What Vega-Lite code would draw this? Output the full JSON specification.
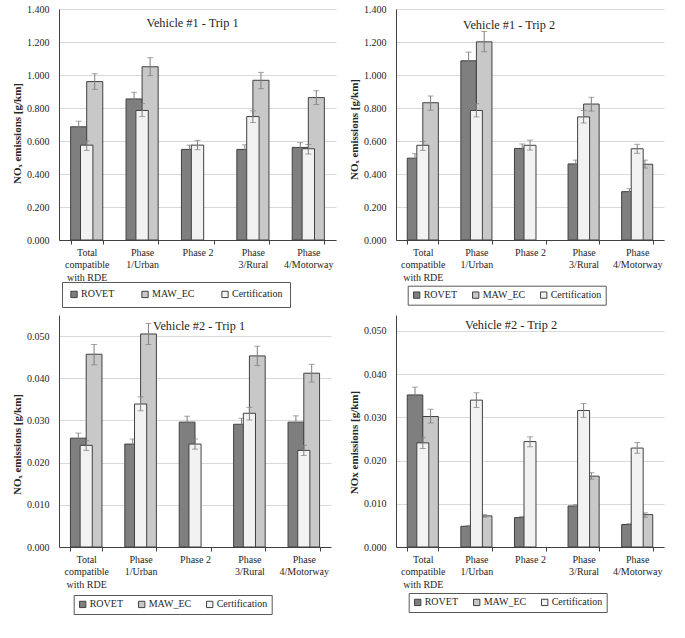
{
"$schema": "https://vega.github.io/schema/vega-lite/v6.json",
"padding": {"left": 11, "top": 4, "right": 5, "bottom": 5},
"data": {"values": [
{"p":1,"ph":"Total compatible with RDE","s":"ROVET","v":0.686,"lo":0.652,"hi":0.720},
{"p":1,"ph":"Total compatible with RDE","s":"MAW_EC","v":0.960,"lo":0.913,"hi":1.008},
{"p":1,"ph":"Total compatible with RDE","s":"Certification","v":0.575,"lo":0.543,"hi":0.600},
{"p":1,"ph":"Phase 1/Urban","s":"ROVET","v":0.855,"lo":0.811,"hi":0.895},
{"p":1,"ph":"Phase 1/Urban","s":"MAW_EC","v":1.050,"lo":0.996,"hi":1.105},
{"p":1,"ph":"Phase 1/Urban","s":"Certification","v":0.785,"lo":0.748,"hi":0.827},
{"p":1,"ph":"Phase 2","s":"ROVET","v":0.549,"lo":0.519,"hi":0.575},
{"p":1,"ph":"Phase 2","s":"Certification","v":0.575,"lo":0.547,"hi":0.604},
{"p":1,"ph":"Phase 3/Rural","s":"ROVET","v":0.549,"lo":0.519,"hi":0.577},
{"p":1,"ph":"Phase 3/Rural","s":"MAW_EC","v":0.968,"lo":0.917,"hi":1.016},
{"p":1,"ph":"Phase 3/Rural","s":"Certification","v":0.748,"lo":0.712,"hi":0.783},
{"p":1,"ph":"Phase 4/Motorway","s":"ROVET","v":0.561,"lo":0.531,"hi":0.590},
{"p":1,"ph":"Phase 4/Motorway","s":"MAW_EC","v":0.863,"lo":0.821,"hi":0.905},
{"p":1,"ph":"Phase 4/Motorway","s":"Certification","v":0.553,"lo":0.521,"hi":0.579},
{"p":2,"ph":"Total compatible with RDE","s":"ROVET","v":0.496,"lo":0.473,"hi":0.523},
{"p":2,"ph":"Total compatible with RDE","s":"MAW_EC","v":0.832,"lo":0.787,"hi":0.873},
{"p":2,"ph":"Total compatible with RDE","s":"Certification","v":0.574,"lo":0.543,"hi":0.598},
{"p":2,"ph":"Phase 1/Urban","s":"ROVET","v":1.086,"lo":1.031,"hi":1.139},
{"p":2,"ph":"Phase 1/Urban","s":"MAW_EC","v":1.201,"lo":1.141,"hi":1.264},
{"p":2,"ph":"Phase 1/Urban","s":"Certification","v":0.785,"lo":0.746,"hi":0.826},
{"p":2,"ph":"Phase 2","s":"ROVET","v":0.555,"lo":0.529,"hi":0.582},
{"p":2,"ph":"Phase 2","s":"Certification","v":0.574,"lo":0.545,"hi":0.605},
{"p":2,"ph":"Phase 3/Rural","s":"ROVET","v":0.461,"lo":0.436,"hi":0.484},
{"p":2,"ph":"Phase 3/Rural","s":"MAW_EC","v":0.824,"lo":0.781,"hi":0.865},
{"p":2,"ph":"Phase 3/Rural","s":"Certification","v":0.746,"lo":0.709,"hi":0.785},
{"p":2,"ph":"Phase 4/Motorway","s":"ROVET","v":0.293,"lo":0.277,"hi":0.311},
{"p":2,"ph":"Phase 4/Motorway","s":"MAW_EC","v":0.459,"lo":0.436,"hi":0.484},
{"p":2,"ph":"Phase 4/Motorway","s":"Certification","v":0.553,"lo":0.525,"hi":0.580},
{"p":3,"ph":"Total compatible with RDE","s":"ROVET","v":0.0258,"lo":0.0243,"hi":0.0270},
{"p":3,"ph":"Total compatible with RDE","s":"MAW_EC","v":0.0457,"lo":0.0432,"hi":0.0480},
{"p":3,"ph":"Total compatible with RDE","s":"Certification","v":0.0241,"lo":0.0229,"hi":0.0252},
{"p":3,"ph":"Phase 1/Urban","s":"ROVET","v":0.0244,"lo":0.0233,"hi":0.0256},
{"p":3,"ph":"Phase 1/Urban","s":"MAW_EC","v":0.0505,"lo":0.0480,"hi":0.0530},
{"p":3,"ph":"Phase 1/Urban","s":"Certification","v":0.0339,"lo":0.0323,"hi":0.0356},
{"p":3,"ph":"Phase 2","s":"ROVET","v":0.0296,"lo":0.0282,"hi":0.0310},
{"p":3,"ph":"Phase 2","s":"Certification","v":0.0244,"lo":0.0232,"hi":0.0256},
{"p":3,"ph":"Phase 3/Rural","s":"ROVET","v":0.0291,"lo":0.0276,"hi":0.0305},
{"p":3,"ph":"Phase 3/Rural","s":"MAW_EC","v":0.0453,"lo":0.0430,"hi":0.0476},
{"p":3,"ph":"Phase 3/Rural","s":"Certification","v":0.0317,"lo":0.0301,"hi":0.0331},
{"p":3,"ph":"Phase 4/Motorway","s":"ROVET","v":0.0296,"lo":0.0281,"hi":0.0311},
{"p":3,"ph":"Phase 4/Motorway","s":"MAW_EC","v":0.0412,"lo":0.0391,"hi":0.0433},
{"p":3,"ph":"Phase 4/Motorway","s":"Certification","v":0.0229,"lo":0.0217,"hi":0.0241},
{"p":4,"ph":"Total compatible with RDE","s":"ROVET","v":0.0352,"lo":0.0335,"hi":0.0370},
{"p":4,"ph":"Total compatible with RDE","s":"MAW_EC","v":0.0302,"lo":0.0287,"hi":0.0319},
{"p":4,"ph":"Total compatible with RDE","s":"Certification","v":0.0241,"lo":0.0228,"hi":0.0253},
{"p":4,"ph":"Phase 1/Urban","s":"ROVET","v":0.0048,"lo":0.0046,"hi":0.0050},
{"p":4,"ph":"Phase 1/Urban","s":"MAW_EC","v":0.0072,"lo":0.0069,"hi":0.0075},
{"p":4,"ph":"Phase 1/Urban","s":"Certification","v":0.0340,"lo":0.0323,"hi":0.0357},
{"p":4,"ph":"Phase 2","s":"ROVET","v":0.0068,"lo":0.0065,"hi":0.0071},
{"p":4,"ph":"Phase 2","s":"Certification","v":0.0244,"lo":0.0232,"hi":0.0255},
{"p":4,"ph":"Phase 3/Rural","s":"ROVET","v":0.0095,"lo":0.0090,"hi":0.0098},
{"p":4,"ph":"Phase 3/Rural","s":"MAW_EC","v":0.0164,"lo":0.0157,"hi":0.0172},
{"p":4,"ph":"Phase 3/Rural","s":"Certification","v":0.0316,"lo":0.0300,"hi":0.0332},
{"p":4,"ph":"Phase 4/Motorway","s":"ROVET","v":0.0052,"lo":0.0049,"hi":0.0054},
{"p":4,"ph":"Phase 4/Motorway","s":"MAW_EC","v":0.0075,"lo":0.0069,"hi":0.0079},
{"p":4,"ph":"Phase 4/Motorway","s":"Certification","v":0.0229,"lo":0.0217,"hi":0.0242}
]},
"columns": 2,
"spacing": {"row": 75, "column": 60},
"bounds": "flush",
"align": "each",
"resolve": {"scale": {"x": "independent", "y": "independent", "color": "independent", "xOffset": "independent"}, "legend": {"color": "independent"}, "axis": {"x": "independent", "y": "independent"}},
"concat": [
{
"width": 277, "height": 231,
"transform": [{"filter": "datum.p == 1"}],
"encoding": {"x": {"field": "ph", "type": "nominal", "title": null, "scale": {"domain": ["Total compatible with RDE","Phase 1/Urban","Phase 2","Phase 3/Rural","Phase 4/Motorway"], "paddingInner": 0.42, "paddingOuter": 0.21}, "axis": {"labelExpr": "!datum.value ? '' : datum.value == 'Total compatible with RDE' ? ['Total', 'compatible', 'with RDE'] : datum.value == 'Phase 2' ? 'Phase 2' : split(datum.value, ' ')"}}},
"layer": [
{"mark": {"type": "bar", "stroke": "#404040", "strokeWidth": 1}, "transform": [{"filter": "datum.s != 'Certification'"}],
 "encoding": {"xOffset": {"field": "s", "type": "nominal", "scale": {"domain": ["ROVET","MAW_EC"], "paddingInner": 0, "paddingOuter": 0}},
  "y": {"field": "v", "type": "quantitative", "title": "NOₓ emissions [g/km]", "scale": {"domain": [0, 1.4], "nice": false}, "axis": {"values": [0,0.2,0.4,0.6,0.8,1.0,1.2,1.4], "tickCount": 8, "format": ".3f", "titleY": 124}},
  "color": {"field": "s", "type": "nominal", "scale": {"domain": ["ROVET","MAW_EC","Certification"], "range": ["#7f7f7f","#c8c8c8","#f2f2f2"]}, "legend": {"orient": "none", "legendX": 3, "legendY": 273, "direction": "horizontal", "columns": 3, "title": null, "padding": 7, "columnPadding": 24}}}},
{"mark": {"type": "rule", "color": "#7f7f7f", "strokeWidth": 1}, "transform": [{"filter": "datum.s != 'Certification'"}],
 "encoding": {"xOffset": {"field": "s", "type": "nominal", "scale": {"domain": ["ROVET","MAW_EC"], "paddingInner": 0, "paddingOuter": 0}},
  "y": {"field": "lo", "type": "quantitative", "title": "NOₓ emissions [g/km]", "scale": {"domain": [0, 1.4], "nice": false}}, "y2": {"field": "hi"}}},
{"mark": {"type": "tick", "color": "#7f7f7f", "size": 6, "thickness": 1}, "transform": [{"filter": "datum.s != 'Certification'"}, {"fold": ["lo", "hi"], "as": ["k", "e"]}],
 "encoding": {"xOffset": {"field": "s", "type": "nominal", "scale": {"domain": ["ROVET","MAW_EC"], "paddingInner": 0, "paddingOuter": 0}},
  "y": {"field": "e", "type": "quantitative", "title": "NOₓ emissions [g/km]", "scale": {"domain": [0, 1.4], "nice": false}}}},
{"mark": {"type": "bar", "stroke": "#404040", "strokeWidth": 1, "width": {"band": 0.385}}, "transform": [{"filter": "datum.s == 'Certification'"}],
 "encoding": {"y": {"field": "v", "type": "quantitative", "title": "NOₓ emissions [g/km]", "scale": {"domain": [0, 1.4], "nice": false}},
  "color": {"field": "s", "type": "nominal", "scale": {"domain": ["ROVET","MAW_EC","Certification"], "range": ["#7f7f7f","#c8c8c8","#f2f2f2"]}, "legend": {"orient": "none", "legendX": 3, "legendY": 273, "direction": "horizontal", "columns": 3, "title": null, "padding": 7, "columnPadding": 24}}}},
{"mark": {"type": "rule", "color": "#7f7f7f", "strokeWidth": 1}, "transform": [{"filter": "datum.s == 'Certification'"}],
 "encoding": {"y": {"field": "lo", "type": "quantitative", "title": "NOₓ emissions [g/km]", "scale": {"domain": [0, 1.4], "nice": false}}, "y2": {"field": "hi"}}},
{"mark": {"type": "tick", "color": "#7f7f7f", "size": 6, "thickness": 1}, "transform": [{"filter": "datum.s == 'Certification'"}, {"fold": ["lo", "hi"], "as": ["k", "e"]}],
 "encoding": {"y": {"field": "e", "type": "quantitative", "title": "NOₓ emissions [g/km]", "scale": {"domain": [0, 1.4], "nice": false}}}},
{"data": {"values": [{"p": 1, "t": "Vehicle #1 - Trip 1"}]},
 "mark": {"type": "text", "font": "Liberation Serif", "fontSize": 12.3, "color": "#262626", "align": "center", "baseline": "middle", "dx": -5},
 "encoding": {"x": {"datum": "Phase 2", "type": "nominal"}, "y": {"datum": 1.317, "type": "quantitative", "title": "NOₓ emissions [g/km]", "scale": {"domain": [0, 1.4], "nice": false}}, "text": {"field": "t"}}}
]
},
{
"width": 268, "height": 231,
"transform": [{"filter": "datum.p == 2"}],
"encoding": {"x": {"field": "ph", "type": "nominal", "title": null, "scale": {"domain": ["Total compatible with RDE","Phase 1/Urban","Phase 2","Phase 3/Rural","Phase 4/Motorway"], "paddingInner": 0.42, "paddingOuter": 0.21}, "axis": {"labelExpr": "!datum.value ? '' : datum.value == 'Total compatible with RDE' ? ['Total', 'compatible', 'with RDE'] : datum.value == 'Phase 2' ? 'Phase 2' : split(datum.value, ' ')"}}},
"layer": [
{"mark": {"type": "bar", "stroke": "#404040", "strokeWidth": 1}, "transform": [{"filter": "datum.s != 'Certification'"}],
 "encoding": {"xOffset": {"field": "s", "type": "nominal", "scale": {"domain": ["ROVET","MAW_EC"], "paddingInner": 0, "paddingOuter": 0}},
  "y": {"field": "v", "type": "quantitative", "title": "NOₓ emissions [g/km]", "scale": {"domain": [0, 1.4], "nice": false}, "axis": {"values": [0,0.2,0.4,0.6,0.8,1.0,1.2,1.4], "tickCount": 8, "format": ".3f", "titleY": 120}},
  "color": {"field": "s", "type": "nominal", "scale": {"domain": ["ROVET","MAW_EC","Certification"], "range": ["#7f7f7f","#c8c8c8","#f2f2f2"]}, "legend": {"orient": "none", "legendX": 11.7, "legendY": 276.7, "direction": "horizontal", "columns": 3, "title": null}}}},
{"mark": {"type": "rule", "color": "#7f7f7f", "strokeWidth": 1}, "transform": [{"filter": "datum.s != 'Certification'"}],
 "encoding": {"xOffset": {"field": "s", "type": "nominal", "scale": {"domain": ["ROVET","MAW_EC"], "paddingInner": 0, "paddingOuter": 0}},
  "y": {"field": "lo", "type": "quantitative", "title": "NOₓ emissions [g/km]", "scale": {"domain": [0, 1.4], "nice": false}}, "y2": {"field": "hi"}}},
{"mark": {"type": "tick", "color": "#7f7f7f", "size": 6, "thickness": 1}, "transform": [{"filter": "datum.s != 'Certification'"}, {"fold": ["lo", "hi"], "as": ["k", "e"]}],
 "encoding": {"xOffset": {"field": "s", "type": "nominal", "scale": {"domain": ["ROVET","MAW_EC"], "paddingInner": 0, "paddingOuter": 0}},
  "y": {"field": "e", "type": "quantitative", "title": "NOₓ emissions [g/km]", "scale": {"domain": [0, 1.4], "nice": false}}}},
{"mark": {"type": "bar", "stroke": "#404040", "strokeWidth": 1, "width": {"band": 0.385}}, "transform": [{"filter": "datum.s == 'Certification'"}],
 "encoding": {"y": {"field": "v", "type": "quantitative", "title": "NOₓ emissions [g/km]", "scale": {"domain": [0, 1.4], "nice": false}},
  "color": {"field": "s", "type": "nominal", "scale": {"domain": ["ROVET","MAW_EC","Certification"], "range": ["#7f7f7f","#c8c8c8","#f2f2f2"]}, "legend": {"orient": "none", "legendX": 11.7, "legendY": 276.7, "direction": "horizontal", "columns": 3, "title": null}}}},
{"mark": {"type": "rule", "color": "#7f7f7f", "strokeWidth": 1}, "transform": [{"filter": "datum.s == 'Certification'"}],
 "encoding": {"y": {"field": "lo", "type": "quantitative", "title": "NOₓ emissions [g/km]", "scale": {"domain": [0, 1.4], "nice": false}}, "y2": {"field": "hi"}}},
{"mark": {"type": "tick", "color": "#7f7f7f", "size": 6, "thickness": 1}, "transform": [{"filter": "datum.s == 'Certification'"}, {"fold": ["lo", "hi"], "as": ["k", "e"]}],
 "encoding": {"y": {"field": "e", "type": "quantitative", "title": "NOₓ emissions [g/km]", "scale": {"domain": [0, 1.4], "nice": false}}}},
{"data": {"values": [{"p": 2, "t": "Vehicle #1 - Trip 2"}]},
 "mark": {"type": "text", "font": "Liberation Serif", "fontSize": 12.3, "color": "#262626", "align": "center", "baseline": "middle", "dx": -21},
 "encoding": {"x": {"datum": "Phase 2", "type": "nominal"}, "y": {"datum": 1.305, "type": "quantitative", "title": "NOₓ emissions [g/km]", "scale": {"domain": [0, 1.4], "nice": false}}, "text": {"field": "t"}}}
]
},
{
"width": 272, "height": 232,
"transform": [{"filter": "datum.p == 3"}],
"encoding": {"x": {"field": "ph", "type": "nominal", "title": null, "scale": {"domain": ["Total compatible with RDE","Phase 1/Urban","Phase 2","Phase 3/Rural","Phase 4/Motorway"], "paddingInner": 0.42, "paddingOuter": 0.21}, "axis": {"labelExpr": "!datum.value ? '' : datum.value == 'Total compatible with RDE' ? ['Total', 'compatible', 'with RDE'] : datum.value == 'Phase 2' ? 'Phase 2' : split(datum.value, ' ')"}}},
"layer": [
{"mark": {"type": "bar", "stroke": "#404040", "strokeWidth": 1}, "transform": [{"filter": "datum.s != 'Certification'"}],
 "encoding": {"xOffset": {"field": "s", "type": "nominal", "scale": {"domain": ["ROVET","MAW_EC"], "paddingInner": 0, "paddingOuter": 0}},
  "y": {"field": "v", "type": "quantitative", "title": "NOₓ emissions [g/km]", "scale": {"domain": [0, 0.055], "nice": false}, "axis": {"values": [0,0.01,0.02,0.03,0.04,0.05], "tickCount": 6, "format": ".3f", "titleY": 129}},
  "color": {"field": "s", "type": "nominal", "scale": {"domain": ["ROVET","MAW_EC","Certification"], "range": ["#7f7f7f","#c8c8c8","#f2f2f2"]}, "legend": {"orient": "none", "legendX": 14.7, "legendY": 280, "direction": "horizontal", "columns": 3, "title": null}}}},
{"mark": {"type": "rule", "color": "#7f7f7f", "strokeWidth": 1}, "transform": [{"filter": "datum.s != 'Certification'"}],
 "encoding": {"xOffset": {"field": "s", "type": "nominal", "scale": {"domain": ["ROVET","MAW_EC"], "paddingInner": 0, "paddingOuter": 0}},
  "y": {"field": "lo", "type": "quantitative", "title": "NOₓ emissions [g/km]", "scale": {"domain": [0, 0.055], "nice": false}}, "y2": {"field": "hi"}}},
{"mark": {"type": "tick", "color": "#7f7f7f", "size": 6, "thickness": 1}, "transform": [{"filter": "datum.s != 'Certification'"}, {"fold": ["lo", "hi"], "as": ["k", "e"]}],
 "encoding": {"xOffset": {"field": "s", "type": "nominal", "scale": {"domain": ["ROVET","MAW_EC"], "paddingInner": 0, "paddingOuter": 0}},
  "y": {"field": "e", "type": "quantitative", "title": "NOₓ emissions [g/km]", "scale": {"domain": [0, 0.055], "nice": false}}}},
{"mark": {"type": "bar", "stroke": "#404040", "strokeWidth": 1, "width": {"band": 0.385}}, "transform": [{"filter": "datum.s == 'Certification'"}],
 "encoding": {"y": {"field": "v", "type": "quantitative", "title": "NOₓ emissions [g/km]", "scale": {"domain": [0, 0.055], "nice": false}},
  "color": {"field": "s", "type": "nominal", "scale": {"domain": ["ROVET","MAW_EC","Certification"], "range": ["#7f7f7f","#c8c8c8","#f2f2f2"]}, "legend": {"orient": "none", "legendX": 14.7, "legendY": 280, "direction": "horizontal", "columns": 3, "title": null}}}},
{"mark": {"type": "rule", "color": "#7f7f7f", "strokeWidth": 1}, "transform": [{"filter": "datum.s == 'Certification'"}],
 "encoding": {"y": {"field": "lo", "type": "quantitative", "title": "NOₓ emissions [g/km]", "scale": {"domain": [0, 0.055], "nice": false}}, "y2": {"field": "hi"}}},
{"mark": {"type": "tick", "color": "#7f7f7f", "size": 6, "thickness": 1}, "transform": [{"filter": "datum.s == 'Certification'"}, {"fold": ["lo", "hi"], "as": ["k", "e"]}],
 "encoding": {"y": {"field": "e", "type": "quantitative", "title": "NOₓ emissions [g/km]", "scale": {"domain": [0, 0.055], "nice": false}}}},
{"data": {"values": [{"p": 3, "t": "Vehicle #2 - Trip 1"}]},
 "mark": {"type": "text", "font": "Liberation Serif", "fontSize": 12.3, "color": "#262626", "align": "center", "baseline": "middle", "dx": 4},
 "encoding": {"x": {"datum": "Phase 2", "type": "nominal"}, "y": {"datum": 0.05246, "type": "quantitative", "title": "NOₓ emissions [g/km]", "scale": {"domain": [0, 0.055], "nice": false}}, "text": {"field": "t"}}}
]
},
{
"width": 268, "height": 232,
"transform": [{"filter": "datum.p == 4"}],
"encoding": {"x": {"field": "ph", "type": "nominal", "title": null, "scale": {"domain": ["Total compatible with RDE","Phase 1/Urban","Phase 2","Phase 3/Rural","Phase 4/Motorway"], "paddingInner": 0.42, "paddingOuter": 0.21}, "axis": {"labelExpr": "!datum.value ? '' : datum.value == 'Total compatible with RDE' ? ['Total', 'compatible', 'with RDE'] : datum.value == 'Phase 2' ? 'Phase 2' : split(datum.value, ' ')"}}},
"layer": [
{"mark": {"type": "bar", "stroke": "#404040", "strokeWidth": 1}, "transform": [{"filter": "datum.s != 'Certification'"}],
 "encoding": {"xOffset": {"field": "s", "type": "nominal", "scale": {"domain": ["ROVET","MAW_EC"], "paddingInner": 0, "paddingOuter": 0}},
  "y": {"field": "v", "type": "quantitative", "title": "NOx emissions [g/km]", "scale": {"domain": [0, 0.0537], "nice": false}, "axis": {"values": [0,0.01,0.02,0.03,0.04,0.05], "tickCount": 6, "format": ".3f", "titleY": 127}},
  "color": {"field": "s", "type": "nominal", "scale": {"domain": ["ROVET","MAW_EC","Certification"], "range": ["#7f7f7f","#c8c8c8","#f2f2f2"]}, "legend": {"orient": "none", "legendX": 12.7, "legendY": 278, "direction": "horizontal", "columns": 3, "title": null}}}},
{"mark": {"type": "rule", "color": "#7f7f7f", "strokeWidth": 1}, "transform": [{"filter": "datum.s != 'Certification'"}],
 "encoding": {"xOffset": {"field": "s", "type": "nominal", "scale": {"domain": ["ROVET","MAW_EC"], "paddingInner": 0, "paddingOuter": 0}},
  "y": {"field": "lo", "type": "quantitative", "title": "NOx emissions [g/km]", "scale": {"domain": [0, 0.0537], "nice": false}}, "y2": {"field": "hi"}}},
{"mark": {"type": "tick", "color": "#7f7f7f", "size": 6, "thickness": 1}, "transform": [{"filter": "datum.s != 'Certification'"}, {"fold": ["lo", "hi"], "as": ["k", "e"]}],
 "encoding": {"xOffset": {"field": "s", "type": "nominal", "scale": {"domain": ["ROVET","MAW_EC"], "paddingInner": 0, "paddingOuter": 0}},
  "y": {"field": "e", "type": "quantitative", "title": "NOx emissions [g/km]", "scale": {"domain": [0, 0.0537], "nice": false}}}},
{"mark": {"type": "bar", "stroke": "#404040", "strokeWidth": 1, "width": {"band": 0.385}}, "transform": [{"filter": "datum.s == 'Certification'"}],
 "encoding": {"y": {"field": "v", "type": "quantitative", "title": "NOx emissions [g/km]", "scale": {"domain": [0, 0.0537], "nice": false}},
  "color": {"field": "s", "type": "nominal", "scale": {"domain": ["ROVET","MAW_EC","Certification"], "range": ["#7f7f7f","#c8c8c8","#f2f2f2"]}, "legend": {"orient": "none", "legendX": 12.7, "legendY": 278, "direction": "horizontal", "columns": 3, "title": null}}}},
{"mark": {"type": "rule", "color": "#7f7f7f", "strokeWidth": 1}, "transform": [{"filter": "datum.s == 'Certification'"}],
 "encoding": {"y": {"field": "lo", "type": "quantitative", "title": "NOx emissions [g/km]", "scale": {"domain": [0, 0.0537], "nice": false}}, "y2": {"field": "hi"}}},
{"mark": {"type": "tick", "color": "#7f7f7f", "size": 6, "thickness": 1}, "transform": [{"filter": "datum.s == 'Certification'"}, {"fold": ["lo", "hi"], "as": ["k", "e"]}],
 "encoding": {"y": {"field": "e", "type": "quantitative", "title": "NOx emissions [g/km]", "scale": {"domain": [0, 0.0537], "nice": false}}}},
{"data": {"values": [{"p": 4, "t": "Vehicle #2 - Trip 2"}]},
 "mark": {"type": "text", "font": "Liberation Serif", "fontSize": 12.3, "color": "#262626", "align": "center", "baseline": "middle", "dx": -19},
 "encoding": {"x": {"datum": "Phase 2", "type": "nominal"}, "y": {"datum": 0.05145, "type": "quantitative", "title": "NOx emissions [g/km]", "scale": {"domain": [0, 0.0537], "nice": false}}, "text": {"field": "t"}}}
]
}
],
"config": {
 "font": "Liberation Serif",
 "view": {"stroke": null},
 "axis": {"labelFont": "Liberation Serif", "labelFontSize": 10, "labelColor": "#262626", "titleFont": "Liberation Serif", "titleColor": "#262626", "domainColor": "#404040", "tickColor": "#404040"},
 "axisY": {"grid": true, "gridColor": "#d9d9d9", "ticks": false, "labelPadding": 10, "titleFontSize": 11, "titleFontWeight": "bold", "titlePadding": 4},
 "axisX": {"grid": false, "tickBand": "extent", "tickSize": 4, "labelAngle": 0, "labelPadding": 3, "labelLineHeight": 12.5, "labelBaseline": "top"},
 "legend": {"labelFont": "Liberation Serif", "labelFontSize": 10, "labelColor": "#262626", "symbolType": "square", "symbolSize": 40, "symbolStrokeColor": "#404040", "symbolStrokeWidth": 1, "strokeColor": "#595959", "fillColor": "#ffffff", "padding": 4, "columnPadding": 12, "labelOffset": 2}
}
}
